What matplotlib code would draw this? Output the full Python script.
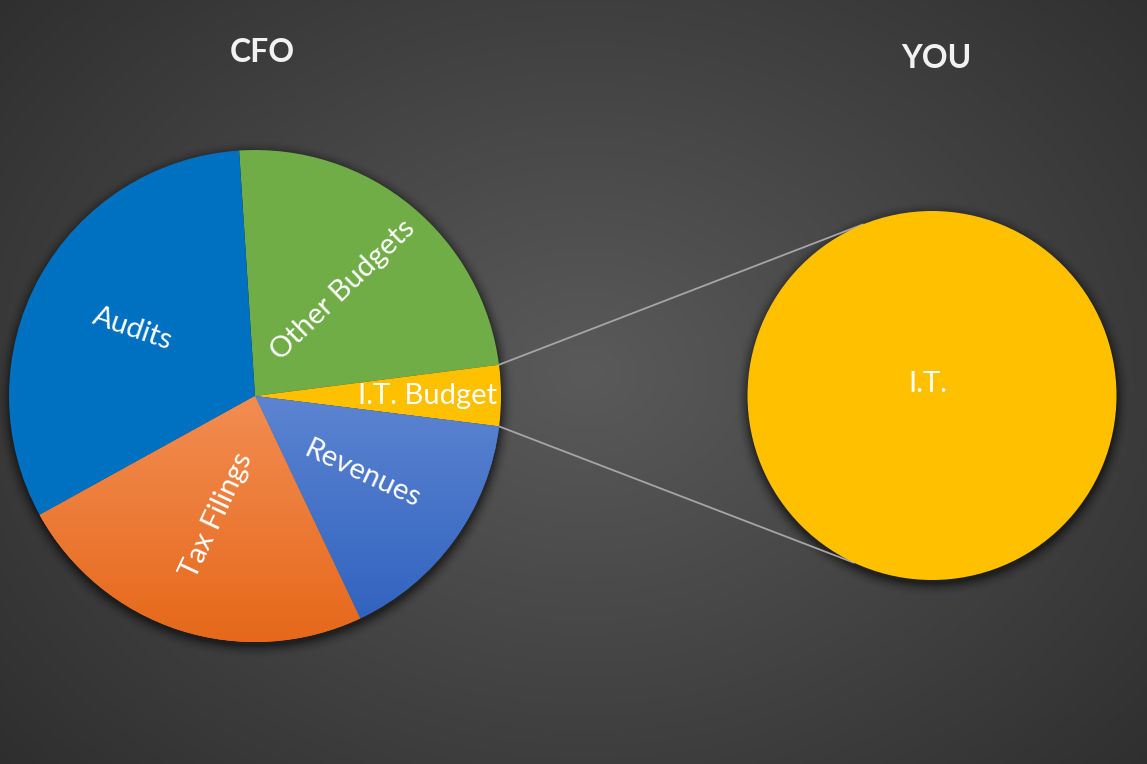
import numpy as np
import matplotlib
matplotlib.use("Agg")
import matplotlib.pyplot as plt
from matplotlib.colors import to_rgb

# ---------------- data ----------------
categories = ["Other Budgets", "I.T. Budget", "Revenues", "Tax Filings", "Audits"]
values = [24, 4, 16, 24, 32]
detail_categories = ["I.T."]
detail_values = [4]
titles = ["CFO", "YOU"]

# ---------------- style ----------------
colors = ["#70AD47", "#FFC000", "#4472C4", "#ED7D31", "#0070C0"]
gradients = {"Revenues": ("#5C84D2", "#2D60BD"), "Tax Filings": ("#F28D52", "#E6681A")}
label_dist = [0.56, 0.70, 0.54, 0.51, 0.567]
label_rot = [44, 0, -25, 65, -19]
FONT = ["Lato", "DejaVu Sans"]

W, H = 1147, 764
fig = plt.figure(figsize=(W / 100, H / 100), dpi=100)
ax = fig.add_axes([0, 0, 1, 1])

# background radial gradient
yy, xx = np.mgrid[0:H, 0:W].astype(float)
r = np.sqrt(((xx - 585) / 720.0) ** 2 + ((yy - 390) / 560.0) ** 2)
v = 37 + 53 * np.clip(1 - r / 1.3, 0, 1) ** 1.0
bg = np.dstack([v, v, v]) / 255.0
ax.imshow(bg, extent=(0, W, 0, H), origin="lower", aspect="auto", zorder=0)

c1 = (255.0, 368.0)
R1 = 246.0
c2 = (932.0, 368.5)
R2 = 184.5

# soft shadows under circles
shadow = np.zeros((H, W, 4))
alpha = np.zeros((H, W))
for (cx, cy), rr in [(c1, R1), (c2, R2)]:
    d = np.sqrt((xx - cx) ** 2 + (yy - (cy - 4)) ** 2) - rr
    a = 0.5 * np.clip(1 - d / 14.0, 0, 1) ** 2
    alpha = np.maximum(alpha, a)
shadow[..., 3] = alpha
ax.imshow(shadow, extent=(0, W, 0, H), origin="lower", aspect="auto", zorder=1)

# main pie
wedges, _ = ax.pie(values, colors=colors, startangle=93.7, counterclock=False,
                   center=c1, radius=R1, wedgeprops=dict(linewidth=0))
for w in wedges:
    w.set_zorder(2)

# gradient fills
for name, (ctop, cbot) in gradients.items():
    i = categories.index(name)
    w = wedges[i]
    t = np.linspace(0, 1, 256)[:, None]
    top = np.array(to_rgb(ctop)); bot = np.array(to_rgb(cbot))
    grad = (top[None, None, :] * (1 - t[..., None]) + bot[None, None, :] * t[..., None])
    grad = np.repeat(grad, 2, axis=1)
    im = ax.imshow(grad, extent=(c1[0] - R1, c1[0] + R1, c1[1] - R1, c1[1]),
                   origin="upper", aspect="auto", zorder=3)
    im.set_clip_path(w)

# labels
for w, lab, d, rot in zip(wedges, categories, label_dist, label_rot):
    ang = np.deg2rad((w.theta1 + w.theta2) / 2.0)
    x = c1[0] + d * R1 * np.cos(ang)
    y = c1[1] + d * R1 * np.sin(ang)
    ax.text(x, y, lab, rotation=rot, rotation_mode="anchor", ha="center", va="center",
            color="white", fontsize=21, family=FONT, zorder=5)

# detail circle
w2, _ = ax.pie(detail_values, colors=[colors[1]], center=c2, radius=R2,
               wedgeprops=dict(linewidth=0))
for w in w2:
    w.set_zorder(2)
ax.text(c2[0] - 4, c2[1] + 0.06 * R2, detail_categories[0], ha="center", va="center",
        color="white", fontsize=21, family=FONT, zorder=5)

# connector lines
itw = wedges[categories.index("I.T. Budget")]
a_hi = np.deg2rad(max(itw.theta1, itw.theta2))
a_lo = np.deg2rad(min(itw.theta1, itw.theta2))
for a_src, a_dst in [(a_hi, np.deg2rad(112)), (a_lo, np.deg2rad(-115))]:
    x0 = c1[0] + R1 * np.cos(a_src); y0 = c1[1] + R1 * np.sin(a_src)
    x1 = c2[0] + R2 * np.cos(a_dst); y1 = c2[1] + R2 * np.sin(a_dst)
    ax.plot([x0, x1], [y0, y1], color="#A6A6A6", lw=1.3, zorder=1.5, solid_capstyle="round")

# titles
ax.text(262, 711, titles[0], ha="center", va="center", color="#F2F2F2",
        fontsize=23, fontweight="bold", family=FONT, zorder=5)
ax.text(936, 706, titles[1], ha="center", va="center", color="#F2F2F2",
        fontsize=23, fontweight="bold", family=FONT, zorder=5)

ax.set_xlim(0, W)
ax.set_ylim(0, H)
ax.set_aspect("auto")
ax.axis("off")
fig.savefig("out.png", dpi=100)
